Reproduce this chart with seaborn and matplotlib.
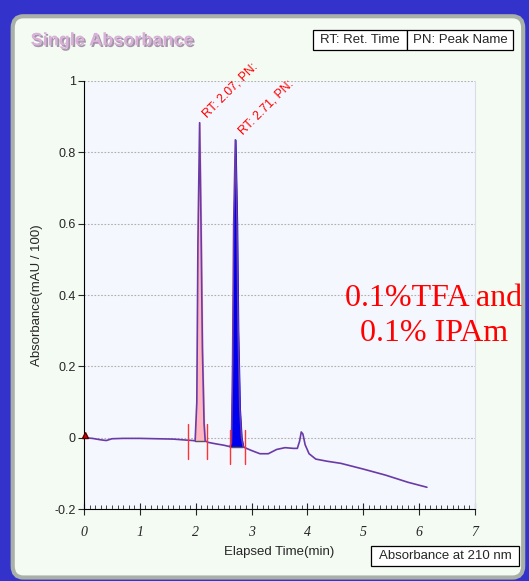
import numpy as np
import pandas as pd
import matplotlib
matplotlib.use("Agg")
import matplotlib.pyplot as plt
import matplotlib.patheffects as pe
from matplotlib.patches import FancyBboxPatch, Rectangle
from matplotlib.ticker import MultipleLocator
import seaborn as sns

# chromatogram trace (time in min, absorbance in mAU/100)
time = [0.00, 0.15, 0.30, 0.40, 0.50, 0.70, 1.00, 1.30, 1.60, 1.85, 1.95, 1.99,
        2.02, 2.04, 2.07, 2.095, 2.12, 2.15, 2.17, 2.22, 2.35, 2.50, 2.61, 2.64,
        2.66, 2.68, 2.71, 2.74, 2.76, 2.79, 2.82, 2.85, 2.88, 3.00, 3.15, 3.30,
        3.45, 3.60, 3.75, 3.82, 3.86, 3.89, 3.92, 3.96, 4.03, 4.15, 4.35, 4.60,
        5.00, 5.40, 5.80, 6.14]
absorb = [0.000, -0.002, -0.006, -0.008, -0.003, -0.002, -0.002, -0.003, -0.004,
          -0.007, -0.008, -0.009, 0.10, 0.55, 0.883, 0.60, 0.25, 0.04, -0.009,
          -0.013, -0.017, -0.021, -0.025, -0.015, 0.20, 0.60, 0.835, 0.60, 0.30,
          0.08, 0.00, -0.025, -0.028, -0.036, -0.045, -0.045, -0.033, -0.028,
          -0.030, -0.030, -0.010, 0.016, 0.010, -0.020, -0.045, -0.060, -0.066,
          -0.072, -0.088, -0.105, -0.125, -0.139]

# integrated peaks
peak_rt = [2.07, 2.71]
peak_top = [0.883, 0.835]
peak_start = [1.99, 2.61]
peak_end = [2.17, 2.85]
peak_base = [-0.009, -0.025]
peak_fill = ['#ffb6c1', '#0000ee']
peak_labels = ['RT: 2.07, PN:', 'RT: 2.71, PN:']

# red integration markers
marker_t = [1.87, 2.20, 2.61, 2.88]
marker_lo = [-0.059, -0.059, -0.073, -0.073]
marker_hi = [0.039, 0.039, 0.022, 0.022]

df = pd.DataFrame({'time': time, 'absorb': absorb})

sns.set_style('white')
plt.rcParams['font.family'] = ['Liberation Sans', 'DejaVu Sans']

fig = plt.figure(figsize=(5.29, 5.81), dpi=100)
fig.patch.set_facecolor('#3333cc')

# light panel with rounded corners
panel = FancyBboxPatch((0.024, 0.006), 0.965, 0.966, transform=fig.transFigure,
                       boxstyle='round,pad=0,rounding_size=0.02',
                       facecolor='#f4fbf3', edgecolor='#a8b0a8', linewidth=3,
                       zorder=-10)
fig.patches.append(panel)

ax = fig.add_axes([0.1588, 0.1239, 0.739, 0.7367])
ax.set_facecolor('#f4f7fd')

t_arr = np.array(time)
a_arr = np.array(absorb)
for i in range(len(peak_rt)):
    m = (t_arr >= peak_start[i]) & (t_arr <= peak_end[i])
    ax.fill_between(t_arr[m], a_arr[m], peak_base[i], color=peak_fill[i], zorder=2)
    ax.plot([peak_start[i], peak_end[i]], [peak_base[i], peak_base[i]],
            color='#555555', lw=1, zorder=3)

sns.lineplot(data=df, x='time', y='absorb', ax=ax, sort=False, estimator=None,
             color='#6a3aa8', lw=1.2, zorder=4)

for t, lo, hi in zip(marker_t, marker_lo, marker_hi):
    ax.plot([t, t], [lo, hi], color='#ff3333', lw=1, zorder=5)

ax.plot([0.02], [0.008], marker='^', color='#cc0000', markersize=5,
        markeredgecolor='#550000', zorder=6, clip_on=False)

for rt, top, lab in zip(peak_rt, peak_top, peak_labels):
    ax.annotate(lab, (rt, top), xytext=(7, 2), textcoords='offset points',
                rotation=45, color='red', fontsize=8.8, ha='left', va='bottom',
                rotation_mode='anchor')

ax.set_xlim(0, 7)
ax.set_ylim(-0.2, 1)
ax.xaxis.set_minor_locator(MultipleLocator(0.1))
ax.set_yticks([-0.2, 0, 0.2, 0.4, 0.6, 0.8, 1])
ax.set_yticklabels(['-0.2', '0', '0.2', '0.4', '0.6', '0.8', '1'])
ax.set_xticks(range(8))
ax.set_xticklabels([str(i) for i in range(8)], family='Liberation Serif',
                   style='italic', fontsize=10)
ax.tick_params(axis='y', labelsize=9, length=4, width=0.8, direction='out',
               left=True, pad=2)
ax.tick_params(axis='x', which='major', length=8, width=0.8, direction='inout',
               bottom=True, pad=8)
ax.tick_params(axis='x', which='minor', length=3, width=0.6, direction='in',
               bottom=True)
ax.grid(axis='y', linestyle=(0, (1.5, 1.5)), color='#b0b0b0', lw=0.8)
ax.set_axisbelow(True)

ax.spines['top'].set_visible(False)
ax.spines['right'].set_color('#d8dde8')
ax.spines['left'].set_color('black')
ax.spines['bottom'].set_color('black')

ax.set_xlabel('Elapsed Time(min)', fontsize=9.5, labelpad=5)
ax.set_ylabel('Absorbance(mAU / 100)', fontsize=9.5, labelpad=8)

# title with shadow
fig.text(0.058, 0.922, 'Single Absorbance', fontsize=13, fontweight='bold',
         color='#d8b0d8',
         path_effects=[pe.SimplePatchShadow(offset=(1.2, -1.2),
                                            shadow_rgbFace='#9a8aa0', alpha=0.9),
                       pe.Normal()])

# legend boxes
fig.patches.append(Rectangle((0.592, 0.914), 0.178, 0.034, transform=fig.transFigure,
                             facecolor='white', edgecolor='black', lw=0.9))
fig.patches.append(Rectangle((0.770, 0.914), 0.200, 0.034, transform=fig.transFigure,
                             facecolor='white', edgecolor='black', lw=0.9))
fig.text(0.681, 0.931, 'RT: Ret. Time', fontsize=9.5, ha='center', va='center')
fig.text(0.870, 0.931, 'PN: Peak Name', fontsize=9.5, ha='center', va='center')

fig.patches.append(Rectangle((0.701, 0.026), 0.280, 0.034, transform=fig.transFigure,
                             facecolor='white', edgecolor='black', lw=0.9))
fig.text(0.841, 0.043, 'Absorbance at 210 nm', fontsize=9.5, ha='center', va='center')

fig.text(0.820, 0.456, '0.1%TFA and\n0.1% IPAm', fontsize=23, color='red',
         family=['Liberation Serif', 'DejaVu Serif'], ha='center', va='center',
         linespacing=1.25)

fig.savefig('out.png', dpi=100, facecolor=fig.get_facecolor())
